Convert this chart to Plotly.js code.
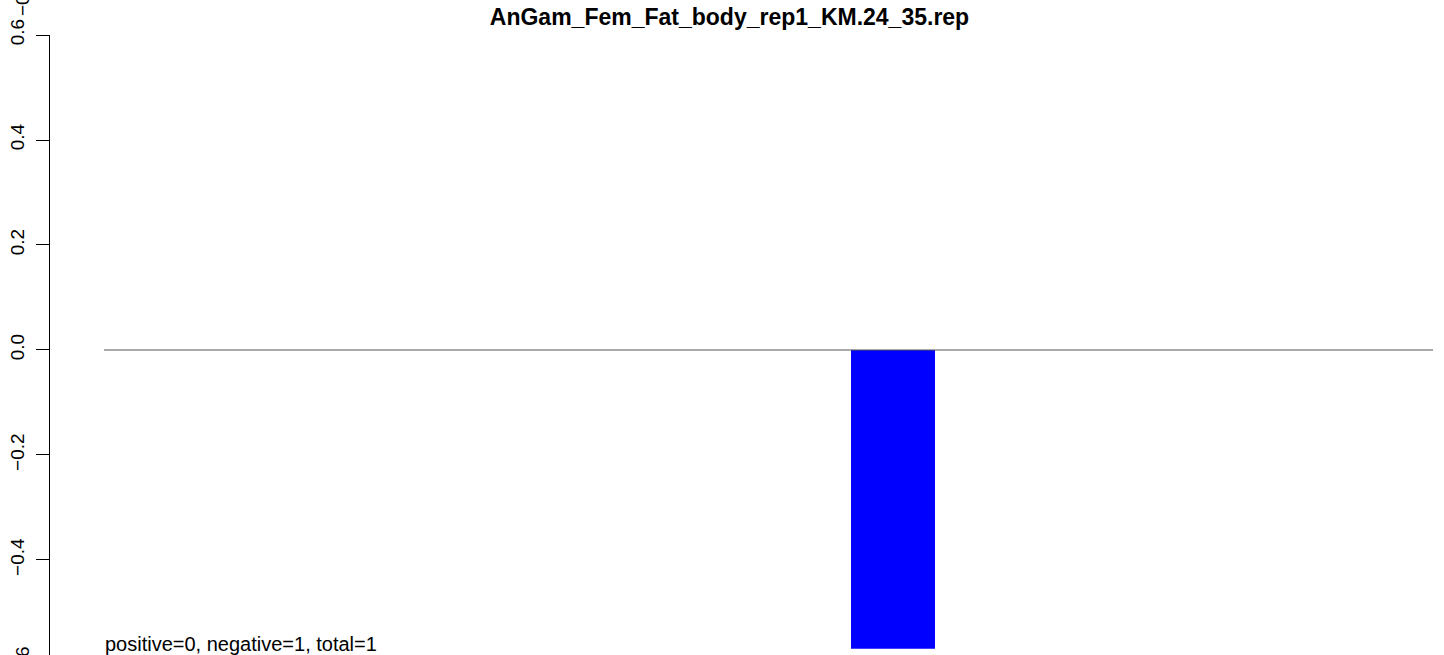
<!DOCTYPE html>
<html>
<head>
<meta charset="utf-8">
<script src="https://cdn.plot.ly/plotly-3.0.1.min.js"></script>
<style>
html,body{margin:0;padding:0;background:#fff;}
#chart{width:1444px;height:655px;}
</style>
</head>
<body>
<div id="chart"></div>
<script>
// Data
const categories = ["1","2","3","4","5","6","7","8","9","10","11","12","13"];
const values = [0,0,0,0,0,0,0,0,-0.569,0,0,0,0];
const yTickVals = [-0.4,-0.2,0.0,0.2,0.4,0.6];
const yTickText = ["\u22120.4","\u22120.2","0.0","0.2","0.4","0.6"];
const chartTitle = "AnGam_Fem_Fat_body_rep1_KM.24_35.rep";
const summaryText = "positive=0, negative=1, total=1";

const FONT = "Liberation Sans, Arial, Helvetica, sans-serif";

const trace = {
  type: "bar",
  x: categories.map((c,i)=>i),
  y: values,
  marker: {color: "#0000ff", line: {width: 0}},
  hoverinfo: "skip"
};

const layout = {
  width: 1444,
  height: 655,
  margin: {l: 50, r: 0, t: 35, b: 0, pad: 0},
  paper_bgcolor: "#fff",
  plot_bgcolor: "#fff",
  showlegend: false,
  bargap: 0.2,
  font: {family: FONT, color: "#000", size: 19},
  title: {
    text: "<b>" + chartTitle + "</b>",
    font: {family: FONT, size: 23, color: "#000"},
    xref: "container", x: 729.5/1444, xanchor: "center",
    yref: "container", y: 1 - 17/655, yanchor: "middle"
  },
  xaxis: {
    range: [-0.029, 13.248],
    showgrid: false, zeroline: false, showline: false,
    showticklabels: false, ticks: "", fixedrange: true
  },
  yaxis: {
    range: [-0.581, 0.6],
    tickmode: "array",
    tickvals: yTickVals,
    ticktext: yTickText,
    tickangle: -90,
    ticks: "outside", ticklen: 13, tickwidth: 1, tickcolor: "#000",
    showline: true, linecolor: "#000", linewidth: 1,
    showgrid: false, zeroline: false,
    tickfont: {family: FONT, size: 19, color: "#000"},
    ticklabelstandoff: 4
  },
  shapes: [{
    type: "line", xref: "paper", yref: "y",
    x0: (104-50)/1394, x1: (1433-50)/1394, y0: 0, y1: 0,
    line: {color: "#555555", width: 1}
  }],
  annotations: [
    {
      text: summaryText, xref: "paper", yref: "paper",
      x: (103-50)/1394, y: (655-644)/620, xanchor: "left", yanchor: "middle",
      showarrow: false, font: {family: FONT, size: 20, color: "#000"}
    },
    {
      text: "\u22120.6", xref: "paper", yref: "paper",
      x: -(50-22)/1394, y: (655-665)/620, xanchor: "center", yanchor: "middle",
      textangle: -90, showarrow: false,
      font: {family: FONT, size: 19, color: "#000"}
    },
    {
      text: "\u22120.6", xref: "paper", yref: "paper",
      x: -(50-22)/1394, y: (655+3)/620, xanchor: "center", yanchor: "middle",
      textangle: -90, showarrow: false,
      font: {family: FONT, size: 19, color: "#000"}
    }
  ]
};

Plotly.newPlot("chart", [trace], layout, {displayModeBar: false, staticPlot: true});
</script>
</body>
</html>
